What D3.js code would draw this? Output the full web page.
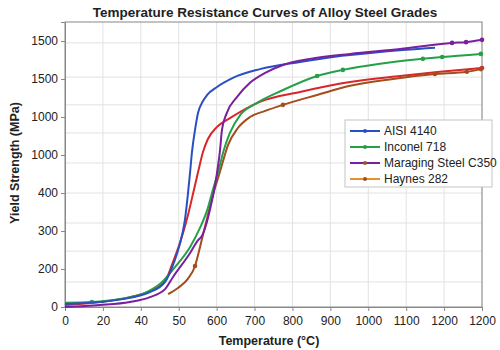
<!DOCTYPE html>
<html>
<head>
  <meta charset="utf8">
  <script src="https://d3js.org/d3.v7.min.js"></script>
  <style>
    body { margin: 0; background: #fff; }
    text { font-family: "Liberation Sans", Arial, sans-serif; fill: #222; }
    .axis path, .axis line { stroke: #888; }
  </style>
</head>
<body>
  <svg id="chart" width="500" height="350"></svg>
  <script>
    // tick labels as printed on the original figure
    var xLabels = ['0', '20', '40', '50', '600', '700', '800', '900', '1000', '1100', '1200', '1200'];
    var yLabels = ['0', '200', '300', '400', '1000', '1000', '1500', '1500'];
    var yGrid = [66, 147, 221, 300, 379, 458, 532, 605, 695];

    // [position on x axis, position on y axis]
    var aisi = [[0, 8], [92, 13], [171, 24], [224, 39], [264, 66], [282, 103], [295, 139], [309, 190],
      [317, 234], [324, 295], [330, 355], [335, 408], [343, 466], [351, 511], [364, 542], [375, 558],
      [401, 579], [443, 603], [514, 626], [620, 645], [707, 658], [831, 671], [976, 682]];
    var inconel = [[0, 11], [71, 13], [145, 21], [211, 37], [251, 61], [290, 105], [330, 158], [356, 208],
      [375, 255], [390, 308], [404, 355], [419, 413], [435, 458], [462, 505], [501, 534], [575, 571],
      [665, 608], [733, 624], [831, 640], [944, 653], [995, 658], [1097, 666]];
    var maraging = [[0, 0], [92, 5], [171, 13], [224, 26], [264, 47], [285, 79], [330, 142], [351, 176],
      [361, 187], [372, 216], [385, 268], [396, 321], [404, 374], [409, 413], [414, 466], [427, 511],
      [454, 553], [488, 590], [528, 616], [575, 637], [646, 653], [752, 666], [884, 679], [1021, 695],
      [1058, 697], [1100, 703]];
    var haynes = [[272, 34], [298, 50], [324, 74], [343, 108], [353, 145], [364, 190], [377, 242],
      [390, 295], [404, 340], [414, 374], [430, 426], [456, 471], [488, 500], [528, 516], [575, 532],
      [665, 558], [752, 582], [865, 600], [976, 613], [1060, 619], [1097, 626]];
    var unlabeled = [[0, 5], [92, 13], [171, 26], [224, 42], [264, 68], [282, 111], [303, 168], [324, 240],
      [340, 308], [351, 355], [364, 408], [377, 442], [401, 474], [435, 497], [514, 540], [620, 566],
      [752, 592], [884, 608], [989, 619], [1100, 629]];

    var inconelMarks = [[71, 13], [665, 608], [733, 624], [944, 653], [995, 658], [1097, 666]];
    var maragingMarks = [[1021, 695], [1058, 697], [1100, 703]];
    var haynesMarks = [[343, 108], [575, 532], [976, 613], [1060, 619], [1097, 626]];
    var unlabeledMarks = [[1100, 629]];

    var series = [
      { name: 'AISI 4140', color: '#2a4fc2', key: '#2a4fc2', dot: '#2a4fc2', values: aisi, marks: [] },
      { name: 'Inconel 718', color: '#24a048', key: '#24a048', dot: '#24a048', values: inconel, marks: inconelMarks },
      { name: 'Maraging Steel C350', color: '#7a1f9e', key: '#7a1f9e', dot: '#a0522d', values: maraging, marks: maragingMarks },
      { name: 'Haynes 282', color: '#a34d1f', key: '#e8902e', dot: '#a34d1f', values: haynes, marks: haynesMarks },
      { name: null, color: '#d8262a', values: unlabeled, marks: unlabeledMarks }
    ];

    var chart = d3.select('#chart');
    var margin = { top: 22, right: 18, bottom: 43, left: 65 };
    var width = 500 - margin.left - margin.right;
    var height = 350 - margin.top - margin.bottom;

    var x = d3.scaleLinear().domain([0, 1100]).range([0, width]);
    var y = d3.scaleLinear().domain([0, 750]).range([height, 0]);
    var xTicks = xLabels.map((d, i) => i * 100);
    var yTicks = yLabels.map((d, i) => i * 100);

    chart.append('text')
      .attr('x', 265).attr('y', 17)
      .attr('text-anchor', 'middle')
      .style('font-size', '13.5px').style('font-weight', 'bold')
      .text('Temperature Resistance Curves of Alloy Steel Grades');

    var group = chart.append('g')
      .attr('transform', 'translate(' + margin.left + ',' + margin.top + ')');

    // grid
    group.append('g').selectAll('line')
      .data(yGrid).enter().append('line')
      .attr('x1', 0).attr('x2', width)
      .attr('y1', (d) => y(d)).attr('y2', (d) => y(d))
      .attr('stroke', '#e2e2e2');
    group.append('g').selectAll('line')
      .data(xTicks.slice(1)).enter().append('line')
      .attr('x1', (d) => x(d)).attr('x2', (d) => x(d))
      .attr('y1', 0).attr('y2', height)
      .attr('stroke', '#e2e2e2');

    group.append('rect')
      .attr('width', width).attr('height', height)
      .attr('fill', 'none').attr('stroke', '#888');

    group.append('g')
      .attr('class', 'axis')
      .attr('transform', 'translate(0,' + height + ')')
      .call(d3.axisBottom(x).tickValues(xTicks).tickSize(4).tickPadding(5)
        .tickFormat((d, i) => xLabels[i]))
      .selectAll('text').style('font-size', '12px').attr('fill', '#222');

    group.append('g')
      .attr('class', 'axis')
      .call(d3.axisLeft(y).tickValues(yTicks).tickSize(4).tickPadding(3)
        .tickFormat((d, i) => yLabels[i]))
      .selectAll('text').style('font-size', '12px').attr('fill', '#222');

    chart.append('text')
      .attr('x', 269).attr('y', 345)
      .attr('text-anchor', 'middle')
      .style('font-size', '12.5px').style('font-weight', 'bold')
      .text('Temperature (°C)');

    chart.append('text')
      .attr('transform', 'translate(19,' + (margin.top + 141) + ') rotate(-90)')
      .attr('text-anchor', 'middle')
      .style('font-size', '12.5px').style('font-weight', 'bold')
      .text('Yield Strength (MPa)');

    var line = d3.line()
      .x((d) => x(d[0]))
      .y((d) => y(d[1]))
      .curve(d3.curveMonotoneX);

    var order = [4, 3, 1, 0, 2];
    order.forEach((k) => {
      var s = series[k];
      group.append('path')
        .attr('d', line(s.values))
        .attr('fill', 'none')
        .attr('stroke', s.color)
        .attr('stroke-width', 2);
      group.selectAll(null)
        .data(s.marks).enter().append('circle')
        .attr('cx', (d) => x(d[0])).attr('cy', (d) => y(d[1]))
        .attr('r', 2.3)
        .attr('fill', s.color);
    });

    // legend
    var legend = chart.append('g').attr('transform', 'translate(345,120)');
    legend.append('rect')
      .attr('width', 147).attr('height', 67)
      .attr('fill', '#fff').attr('stroke', '#c4c4c4');
    var rows = legend.selectAll('g.row')
      .data(series.filter((s) => s.name)).enter().append('g')
      .attr('class', 'row')
      .attr('transform', (d, i) => 'translate(0,' + (11 + i * 16) + ')');
    rows.append('line')
      .attr('x1', 5).attr('x2', 35)
      .attr('stroke', (d) => d.key).attr('stroke-width', 2);
    rows.append('circle')
      .attr('cx', 20).attr('r', 2)
      .attr('fill', (d) => d.dot);
    rows.append('text')
      .attr('x', 39).attr('dy', '0.35em')
      .style('font-size', '12px')
      .text((d) => d.name);
  </script>
</body>
</html>
